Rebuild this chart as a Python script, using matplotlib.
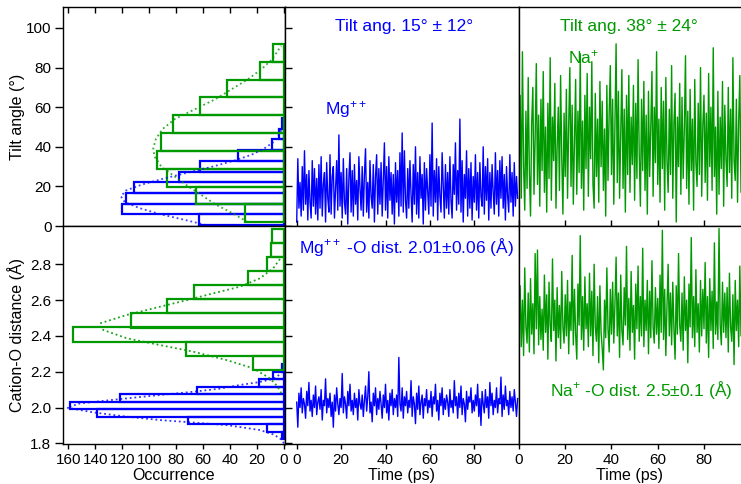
import numpy as np
import matplotlib
matplotlib.use('Agg')
import matplotlib.pyplot as plt

plt.rcParams['font.family'] = ['Liberation Sans', 'DejaVu Sans']
plt.rcParams['mathtext.fontset'] = 'custom'
plt.rcParams['mathtext.rm'] = 'Liberation Sans'
plt.rcParams['mathtext.it'] = 'Liberation Sans:italic'

BLUE = '#0000ff'
GREEN = '#009900'
DT = 0.5   # ps between frames

# ── histograms (bin edges + counts) ─────────────────────────────────────────
mg_tilt_edges  = [0.5, 5.9, 11.3, 16.7, 22.1, 27.5, 32.9, 38.3, 43.7, 49.1, 54.5]
mg_tilt_counts = [63, 120, 117, 111, 78, 62, 34, 9, 3.5, 1.5]
na_tilt_edges  = [1.9, 10.9, 19.9, 28.9, 37.9, 46.9, 55.9, 64.9, 73.9, 82.9, 91.9]
na_tilt_counts = [29, 65, 87, 94, 91.5, 82, 62, 42, 18, 8.4]
mg_dist_edges  = [1.823, 1.865, 1.907, 1.949, 1.990, 2.032, 2.074, 2.116, 2.158, 2.200, 2.242]
mg_dist_counts = [1.5, 12.8, 71.4, 138.5, 158.8, 121.7, 64.8, 18.5, 7.9, 1.7]
na_dist_edges  = [2.210, 2.289, 2.368, 2.447, 2.526, 2.605, 2.684, 2.763, 2.842, 2.921, 3.000]
na_dist_counts = [22.8, 72.9, 156.7, 113.7, 87, 66.8, 26.9, 12.8, 9.9, 8.9]

# ── gaussian fits ───────────────────────────────────────────────────────────
mg_tilt_fit_y = [0.5, 3, 6, 9, 12, 15, 18, 21, 24, 27, 30, 33, 36, 39, 42, 45, 48, 51]
mg_tilt_fit_n = [58, 73, 92, 107, 118, 121, 117, 105, 89, 71, 53, 37, 24, 15, 8.5, 4.6, 2.3, 1.1]
na_tilt_fit_y = [2, 6, 11, 16, 20, 25, 30, 35, 39, 44, 49, 54, 59, 64, 69, 74, 79, 84, 88, 91]
na_tilt_fit_n = [27, 37, 51, 62, 71, 81, 91, 96, 97, 95, 90, 81, 66, 51, 39, 27, 17, 9, 5, 2]
mg_dist_fit_y = [1.80, 1.828, 1.85, 1.874, 1.902, 1.930, 1.950, 1.973, 1.999, 2.023,
                 2.051, 2.070, 2.088, 2.105, 2.126, 2.140, 2.159, 2.180, 2.200]
mg_dist_fit_n = [0, 3, 8, 17.8, 42.5, 92, 118, 141.5, 161, 151.3,
                 116.7, 92, 67.3, 48, 32.6, 20, 8, 4, 1.7]
na_dist_fit_y = [2.08, 2.12, 2.163, 2.219, 2.265, 2.312, 2.349, 2.387, 2.433, 2.455,
                 2.470, 2.517, 2.563, 2.600, 2.638, 2.675, 2.722, 2.778, 2.842]
na_dist_fit_n = [2, 5, 10.4, 22.8, 42.5, 67.3, 92, 116.7, 134, 137,
                 136.5, 116.7, 92, 72, 52.4, 32.6, 17.8, 8, 1.7]

# ── trajectories (one value every DT ps) ────────────────────────────────────
mg_tilt = [
    2, 34, 9, 22, 5, 30, 8, 38, 11, 26, 3, 28, 12, 4, 33, 10, 29, 6, 24, 3,
    31, 9, 35, 5, 21, 27, 2, 32, 14, 7, 36, 6, 25, 30, 4, 18, 33, 8, 46, 10,
    27, 4, 34, 12, 6, 29, 1, 24, 37, 7, 28, 5, 31, 11, 23, 3, 35, 19, 8, 30,
    5, 26, 39, 7, 22, 4, 33, 15, 9, 31, 2, 25, 36, 6, 29, 11, 32, 5, 24, 42,
    8, 30, 4, 35, 13, 27, 6, 26, 1, 32, 12, 28, 5, 37, 10, 47, 7, 38, 13, 4,
    29, 9, 33, 16, 2, 31, 11, 40, 6, 27, 4, 35, 14, 26, 1, 32, 8, 29, 18, 6,
    36, 10, 52, 5, 28, 12, 34, 3, 30, 15, 7, 37, 20, 4, 31, 9, 27, 6, 35, 13,
    4, 31, 16, 42, 8, 28, 11, 54, 7, 33, 2, 26, 14, 38, 5, 29, 9, 32, 3, 25,
    12, 36, 8, 27, 4, 32, 15, 10, 40, 6, 30, 13, 34, 3, 27, 9, 31, 17, 6, 37,
    11, 28, 5, 33, 14, 35, 9, 26, 3, 30, 15, 7, 36, 12, 27, 5, 32, 10, 25, 14,
]
na_tilt = [
    22, 66, 14, 88, 30, 8, 58, 19, 75, 27, 5, 52, 70, 16, 45, 82, 21, 56, 10, 64,
    28, 78, 17, 50, 7, 62, 24, 85, 13, 55, 33, 72, 9, 40, 60, 18, 76, 35, 6, 57,
    25, 69, 14, 51, 80, 20, 61, 11, 44, 74, 16, 58, 27, 87, 19, 53, 8, 66, 29, 77,
    15, 60, 34, 83, 21, 9, 67, 25, 54, 12, 73, 30, 63, 18, 49, 5, 71, 23, 57, 81,
    26, 64, 11, 52, 92, 22, 68, 14, 47, 79, 19, 59, 7, 66, 26, 76, 17, 55, 31, 71,
    13, 62, 24, 84, 36, 10, 64, 28, 73, 18, 56, 6, 68, 25, 50, 78, 15, 60, 32, 88,
    21, 54, 12, 70, 29, 63, 8, 75, 33, 17, 59, 26, 81, 14, 52, 67, 2, 55, 30, 72,
    16, 65, 24, 49, 86, 19, 58, 11, 69, 28, 54, 8, 74, 32, 20, 62, 26, 80, 15, 51,
    66, 22, 57, 13, 77, 30, 60, 18, 90, 25, 50, 6, 68, 16, 55, 29, 73, 10, 61, 34,
    20, 70, 27, 59, 14, 85, 33, 23, 64, 12, 53, 76, 17, 49, 62, 24, 68, 31, 56, 28,
]
mg_dist = [
    2.03, 1.89, 2.08, 2.00, 2.11, 1.97, 2.05, 2.02, 1.94, 2.09, 2.01, 2.14, 1.98, 2.04, 1.95, 2.07, 2.00, 2.12, 1.96, 2.03,
    2.06, 1.99, 2.10, 1.93, 2.04, 2.01, 2.16, 1.97, 2.05, 2.00, 2.08, 1.95, 2.03, 1.89, 2.07, 1.98, 2.11, 2.02, 1.96, 2.05,
    2.00, 2.19, 1.97, 2.06, 2.02, 1.94, 2.09, 2.01, 2.13, 1.98, 2.04, 1.96, 2.08, 2.00, 2.05, 1.93, 2.10, 2.02, 1.99, 2.07,
    1.95, 2.04, 2.12, 1.98, 2.06, 2.20, 1.97, 2.03, 1.92, 2.08, 2.01, 2.11, 1.96, 2.05, 1.99, 2.09, 2.02, 1.94, 2.07, 2.00,
    2.13, 1.97, 2.04, 1.93, 2.08, 2.01, 2.10, 1.96, 2.05, 2.00, 2.07, 1.95, 2.28, 2.02, 1.98, 2.11, 1.94, 2.06, 2.01, 2.09,
    1.97, 2.04, 2.00, 2.15, 1.95, 2.06, 2.02, 1.91, 2.08, 1.99, 2.12, 1.96, 2.03, 2.07, 1.94, 2.05, 2.01, 2.10, 1.97, 2.04,
    2.00, 2.09, 1.95, 2.06, 2.02, 2.13, 1.98, 2.04, 1.93, 2.08, 2.01, 2.11, 1.96, 2.05, 1.99, 2.07, 2.03, 1.95, 2.10, 2.00,
    2.04, 1.97, 2.15, 2.01, 2.06, 1.94, 2.08, 2.00, 2.12, 1.96, 2.05, 2.02, 1.92, 2.09, 1.99, 2.06, 2.03, 2.11, 1.97, 2.04,
    1.98, 2.07, 2.01, 2.13, 1.95, 2.05, 1.90, 2.09, 2.02, 1.97, 2.10, 2.00, 2.06, 1.94, 2.14, 2.01, 2.08, 1.96, 2.04, 2.00,
    2.11, 1.97, 2.05, 2.02, 2.17, 1.95, 2.07, 1.99, 2.12, 2.01, 2.04, 1.96, 2.09, 2.00, 2.06, 1.98, 2.10, 2.03, 1.95, 2.05,
]
na_dist = [
    2.40, 2.68, 2.34, 2.60, 2.29, 2.78, 2.45, 2.36, 2.64, 2.31, 2.72, 2.41, 2.58, 2.30, 2.86, 2.44, 2.88, 2.35, 2.62, 2.38,
    2.55, 2.32, 2.74, 2.42, 2.63, 2.27, 2.70, 2.46, 2.37, 2.83, 2.43, 2.60, 2.26, 2.67, 2.39, 2.57, 2.33, 2.76, 2.45, 2.36,
    2.63, 2.40, 2.71, 2.30, 2.59, 2.43, 2.85, 2.35, 2.66, 2.41, 2.27, 2.69, 2.46, 2.96, 2.38, 2.62, 2.32, 2.73, 2.44, 2.58,
    2.34, 2.75, 2.40, 2.65, 2.29, 2.80, 2.45, 2.37, 2.62, 2.25, 2.68, 2.42, 2.33, 2.21, 2.60, 2.39, 2.78, 2.44, 2.31, 2.66,
    2.41, 2.70, 2.36, 2.58, 2.84, 2.40, 2.64, 2.28, 2.74, 2.43, 2.35, 2.67, 2.46, 2.90, 2.38, 2.61, 2.32, 2.76, 2.42, 2.57,
    2.27, 2.69, 2.44, 2.79, 2.37, 2.62, 2.40, 2.89, 2.34, 2.60, 2.43, 2.71, 2.30, 2.65, 2.39, 2.82, 2.45, 2.36, 2.67, 2.41,
    2.61, 2.33, 2.74, 2.42, 2.99, 2.38, 2.66, 2.29, 2.57, 2.80, 2.40, 2.64, 2.35, 2.70, 2.44, 2.27, 2.68, 2.41, 2.86, 2.46,
    2.37, 2.64, 2.32, 2.73, 2.43, 2.60, 2.25, 2.69, 2.45, 2.95, 2.39, 2.62, 2.34, 2.77, 2.42, 2.58, 2.31, 2.71, 2.40, 2.66,
    2.44, 2.81, 2.36, 2.62, 2.28, 2.72, 2.43, 2.65, 2.33, 2.92, 2.41, 2.59, 2.38, 3.00, 2.46, 2.35, 2.70, 2.42, 2.64, 2.39,
    2.67, 2.31, 2.75, 2.45, 2.37, 2.63, 2.24, 2.71, 2.43, 2.60, 2.34, 2.79, 2.40, 2.65, 2.36, 2.73, 2.46, 2.32, 2.69, 2.44,
]

# ── layout (figure fractions) ───────────────────────────────────────────────
W, H = 741, 484
fig = plt.figure(figsize=(W / 100, H / 100), dpi=100)

col_x = [63.3, 284.5, 518.5, 741]
row_top = (7, 226)
row_bot = (226, 443.5)

def box(c, row):
    x0, x1 = col_x[c], col_x[c + 1]
    return [x0 / W, (H - row[1]) / H, (x1 - x0) / W, (row[1] - row[0]) / H]

ax_h1 = fig.add_axes(box(0, row_top))
ax_m1 = fig.add_axes(box(1, row_top))
ax_n1 = fig.add_axes(box(2, row_top))
ax_h2 = fig.add_axes(box(0, row_bot))
ax_m2 = fig.add_axes(box(1, row_bot))
ax_n2 = fig.add_axes(box(2, row_bot))

TILT_LIM = (0, 110.6)
DIST_LIM = (1.799, 3.014)
OCC_LIM = (163.7, -0.4)
MID_LIM = (-5.5, 99.9)
RIGHT_LIM = (-0.2, 96.0)
TRACE_LW = 1.0

for ax in fig.axes:
    for sp in ax.spines.values():
        sp.set_linewidth(1.0)
    ax.tick_params(labelsize=11, width=1.0, color='black', pad=2.5)


def hist(ax, edges, counts, color):
    ax.barh(edges[:-1], counts, height=np.diff(edges), align='edge',
            fill=False, edgecolor=color, linewidth=1.6)


# ── left column: histograms ─────────────────────────────────────────────────
hist(ax_h1, mg_tilt_edges, mg_tilt_counts, BLUE)
hist(ax_h1, na_tilt_edges, na_tilt_counts, GREEN)
ax_h1.plot(mg_tilt_fit_n, mg_tilt_fit_y, color=BLUE, lw=1.3, ls=(0, (1, 1.6)), alpha=0.75)
ax_h1.plot(na_tilt_fit_n, na_tilt_fit_y, color=GREEN, lw=1.3, ls=(0, (1, 1.6)), alpha=0.8)

hist(ax_h2, mg_dist_edges, mg_dist_counts, BLUE)
hist(ax_h2, na_dist_edges, na_dist_counts, GREEN)
ax_h2.plot(mg_dist_fit_n, mg_dist_fit_y, color=BLUE, lw=1.3, ls=(0, (1, 1.6)), alpha=0.8)
ax_h2.plot(na_dist_fit_n, na_dist_fit_y, color=GREEN, lw=1.3, ls=(0, (1, 1.6)), alpha=0.9)

for ax in (ax_h1, ax_h2):
    ax.set_xlim(*OCC_LIM)
    ax.set_xticks(np.arange(0, 161, 20))

ax_h1.set_ylim(*TILT_LIM)
ax_h1.set_yticks(np.arange(0, 101, 20))
ax_h1.tick_params(axis='y', direction='out', length=6)
ax_h1.tick_params(axis='x', bottom=False, labelbottom=False, top=True,
                  direction='in', length=4)
ax_h1.set_ylabel('Tilt angle (°)', fontsize=11.5)

ax_h2.set_ylim(*DIST_LIM)
ax_h2.set_yticks([1.8, 2.0, 2.2, 2.4, 2.6, 2.8])
ax_h2.set_yticklabels(['1.8', '2.0', '2.2', '2.4', '2.6', '2.8'])
ax_h2.tick_params(axis='y', direction='out', length=6)
ax_h2.tick_params(axis='x', direction='out', length=3.5, pad=3)
ax_h2.set_xlabel('Occurrence', fontsize=11.5, labelpad=1)
ax_h2.set_ylabel('Cation-O distance (Å)', fontsize=11.5)

# both y labels share one column, as in the original
for ax in (ax_h1, ax_h2):
    ax.yaxis.set_label_coords(-0.173, 0.5)

# ── middle column: Mg++ trajectories ────────────────────────────────────────
ax_m1.plot(np.arange(len(mg_tilt)) * DT, mg_tilt, color=BLUE, lw=TRACE_LW)
ax_m2.plot(np.arange(len(mg_dist)) * DT, mg_dist, color=BLUE, lw=TRACE_LW)

# ── right column: Na+ trajectories ──────────────────────────────────────────
ax_n1.plot(np.arange(len(na_tilt)) * DT, na_tilt, color=GREEN, lw=TRACE_LW)
ax_n2.plot(np.arange(len(na_dist)) * DT, na_dist, color=GREEN, lw=TRACE_LW)

for ax, lim in ((ax_m1, MID_LIM), (ax_m2, MID_LIM), (ax_n1, RIGHT_LIM), (ax_n2, RIGHT_LIM)):
    ax.set_xlim(*lim)
    ax.set_xticks(np.arange(0, 81, 20))

ax_m1.set_ylim(*TILT_LIM)
ax_n1.set_ylim(*TILT_LIM)
ax_m2.set_ylim(*DIST_LIM)
ax_n2.set_ylim(*DIST_LIM)
ax_m1.set_yticks(np.arange(0, 101, 20))
ax_m2.set_yticks([1.8, 2.0, 2.2, 2.4, 2.6, 2.8])

ax_m1.tick_params(axis='y', direction='in', length=5, labelleft=False)
ax_m2.tick_params(axis='y', direction='in', length=5, labelleft=False)
ax_n1.tick_params(axis='y', left=False, labelleft=False)
ax_n2.tick_params(axis='y', left=False, labelleft=False)
for ax in (ax_m1, ax_n1):
    ax.tick_params(axis='x', direction='in', length=4.5, labelbottom=False)
for ax in (ax_m2, ax_n2):
    ax.tick_params(axis='x', direction='out', length=3.5, pad=3)
    ax.set_xlabel('Time (ps)', fontsize=11.5, labelpad=1)
for ax in (ax_n1, ax_n2):
    ax.spines['right'].set_visible(False)

# ── annotations ─────────────────────────────────────────────────────────────
ax_m1.text(0.51, 0.91, 'Tilt ang. 15° ± 12°', color=BLUE, fontsize=12.5,
           ha='center', va='center', transform=ax_m1.transAxes)
ax_m1.text(0.173, 0.53, r'Mg$^{\mathregular{++}}$', color=BLUE, fontsize=12.5,
           ha='left', va='center', transform=ax_m1.transAxes)
ax_n1.text(0.497, 0.91, 'Tilt ang. 38° ± 24°', color=GREEN, fontsize=12.5,
           ha='center', va='center', transform=ax_n1.transAxes)
ax_n1.text(0.222, 0.77, r'Na$^{\mathregular{+}}$', color=GREEN, fontsize=12.5,
           ha='left', va='center', transform=ax_n1.transAxes)
ax_m2.text(0.521, 0.905, r'Mg$^{\mathregular{++}}$ -O dist. 2.01±0.06 (Å)', color=BLUE,
           fontsize=12.5, ha='center', va='center', transform=ax_m2.transAxes)
ax_n2.text(0.553, 0.246, r'Na$^{\mathregular{+}}$ -O dist. 2.5±0.1 (Å)', color=GREEN,
           fontsize=12.5, ha='center', va='center', transform=ax_n2.transAxes)

fig.savefig('out.png', dpi=100)
